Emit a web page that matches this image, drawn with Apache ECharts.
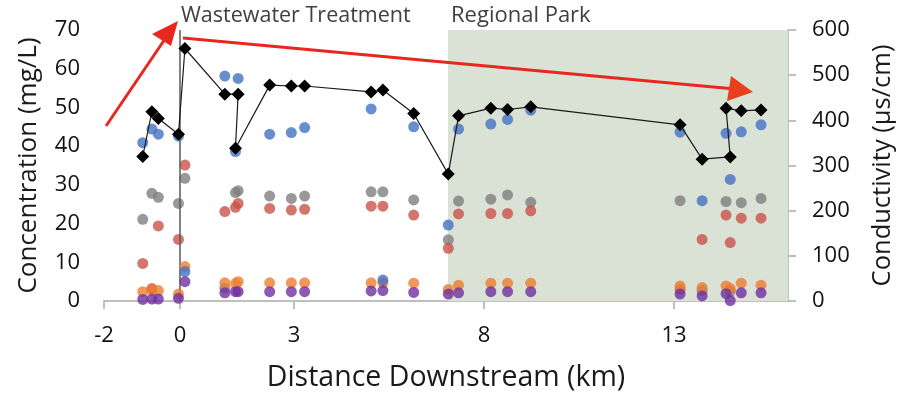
<!DOCTYPE html>
<html><head><meta charset="utf-8">
<script src="https://cdn.jsdelivr.net/npm/echarts@6/dist/echarts.min.js"></script>
<style>html,body{margin:0;padding:0;background:#fff}#c{width:897px;height:396px}</style>
</head><body><div id="c"></div>
<script>
const distance = [-0.98,-0.74,-0.57,-0.04,0.13,1.18,1.53,1.46,2.36,2.93,3.28,5.03,5.34,6.15,7.06,7.33,8.18,8.62,9.23,13.16,13.74,14.48,14.37,14.77,15.29];
const conductivity = [320,419,404,369,559,458,458,338,478,476,476,463,467,415,281,410,427,424,430,390,314,319,427,421,423];
const blueVals = [40.9,44.4,43.1,42.6,7.6,58.1,57.5,38.6,43.1,43.5,44.8,49.6,5.4,45.0,19.6,44.4,45.7,46.9,49.3,43.6,25.9,31.4,43.3,43.7,45.5];
const redVals = [9.7,3.2,19.4,15.9,35.1,23.1,25.2,24.2,23.9,23.5,23.7,24.5,24.5,22.2,13.6,22.5,22.6,22.6,23.3,3.0,15.9,15.1,22.2,21.4,21.4];
const grayVals = [21.1,27.8,26.8,25.2,31.7,3.3,28.5,28.0,27.1,26.5,27.1,28.2,28.2,26.1,15.8,25.8,26.3,27.4,25.5,25.9,2.7,2.5,25.7,25.4,26.5];
const orangeVals = [2.4,2.8,2.7,1.8,8.9,4.7,5.0,4.5,4.7,4.7,4.7,4.7,4.7,4.6,3.0,4.1,4.6,4.6,4.6,3.9,3.5,3.2,3.9,4.6,4.1];
const purpleVals = [0.4,0.5,0.5,0.7,5.0,2.1,2.4,2.4,2.4,2.4,2.4,2.6,2.7,2.2,1.8,2.1,2.4,2.4,2.4,1.8,1.3,0.1,1.9,2.1,2.1];
const xTicks = [-2,0,3,8,13];
const parkStart = 7.05, parkEnd = 16;
const treatmentX = 0;

const FONT = '"Open Sans", sans-serif';
const pair = v => distance.map((d,i)=>[d, v[i]]);
function dots(name, vals, color, z){
  return {name, type:'scatter', yAxisIndex:0, data:pair(vals), symbol:'circle', symbolSize:11,
    itemStyle:{color}, z, silent:true};
}
const chart = echarts.init(document.getElementById('c'), null, {renderer:'canvas'});
chart.setOption({
  animation:false,
  grid:{left:104, right:109, top:30, bottom:95, containLabel:false, outerBoundsMode:'none'},
  xAxis:{type:'value', min:-2, max:16,
    name:'Distance Downstream (km)', nameLocation:'middle', nameGap:62,
    nameTextStyle:{fontFamily:FONT, fontSize:28.5, color:'#1a1a1a'},
    axisLine:{show:true, onZero:false, lineStyle:{color:'#bfbfbf', width:2}},
    axisTick:{show:true, length:8, customValues:xTicks, lineStyle:{color:'#bfbfbf', width:2}},
    axisLabel:{customValues:xTicks, margin:24, fontFamily:FONT, fontSize:22, color:'#111'},
    splitLine:{show:false}},
  yAxis:[
    {type:'value', min:0, max:70, interval:10, position:'left',
     name:'Concentration (mg/L)', nameLocation:'middle', nameGap:62, nameRotate:90,
     nameTextStyle:{fontFamily:FONT, fontSize:26, color:'#1a1a1a'},
     axisLine:{show:false}, axisTick:{show:false}, splitLine:{show:false},
     axisLabel:{margin:24, fontFamily:FONT, fontSize:22, color:'#111'}},
    {type:'value', min:0, max:600, interval:100, position:'right',
     name:'Conductivity (µs/cm)', nameLocation:'middle', nameGap:82, nameRotate:90,
     nameTextStyle:{fontFamily:FONT, fontSize:25.5, color:'#1a1a1a'},
     axisLine:{show:true, lineStyle:{color:'#bfbfbf', width:2}},
     axisTick:{show:true, length:8, lineStyle:{color:'#bfbfbf', width:2}},
     splitLine:{show:false},
     axisLabel:{margin:24, fontFamily:FONT, fontSize:22, color:'#111'}}
  ],
  series:[
    {type:'scatter', data:[], yAxisIndex:0, z:1, silent:true,
     markArea:{silent:true, itemStyle:{color:'#dae2d6'},
       data:[[{xAxis:parkStart, yAxis:0},{xAxis:parkEnd, yAxis:70}]]},
     markLine:{silent:true, symbol:'none', label:{show:false},
       lineStyle:{color:'#595959', width:1.5, type:'solid'},
       data:[{xAxis:treatmentX}]}},
    dots('Gray', grayVals, '#7f7f7f', 3),
    dots('Red', redVals, '#c9534a', 4),
    dots('Orange', orangeVals, '#ed7d31', 5),
    dots('Blue', blueVals, '#4472c4', 6),
    dots('Purple', purpleVals, '#7030a0', 7),
    {name:'Conductivity', type:'line', yAxisIndex:1, data:pair(conductivity),
     symbol:'diamond', symbolSize:13, showSymbol:true,
     lineStyle:{color:'#1a1a1a', width:1.2}, itemStyle:{color:'#000'}, z:8, silent:true}
  ],
  graphic:[
    {type:'text', left:181, top:5, style:{text:'Wastewater Treatment', fontFamily:FONT, fontSize:21.5, fill:'#404040'}},
    {type:'text', left:451, top:5, style:{text:'Regional Park', fontFamily:FONT, fontSize:22, fill:'#404040'}},
    {type:'line', shape:{x1:106, y1:126, x2:165, y2:39}, style:{stroke:'#e8281e', lineWidth:3}, z:20},
    {type:'polygon', shape:{points:[[178,21],[152,34],[171,46]]}, style:{fill:'#e8281e'}, z:20},
    {type:'line', shape:{x1:183, y1:38, x2:735, y2:89}, style:{stroke:'#e8281e', lineWidth:3}, z:20},
    {type:'polygon', shape:{points:[[753,92],[731,76],[727,101]]}, style:{fill:'#e8401e'}, z:20}
  ]
});
</script></body></html>
